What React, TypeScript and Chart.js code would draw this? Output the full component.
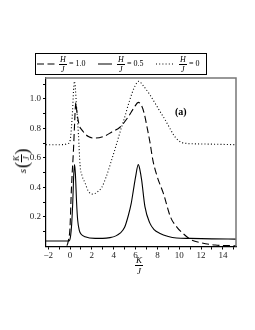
import React, { useEffect, useRef } from "react";
import { Chart, registerables } from "chart.js";

Chart.register(...registerables);

// H/J = 1.0 (dashed)
const xH10 = [-2.2, -0.5, -0.3, -0.15, 0, 0.1, 0.2, 0.3, 0.4, 0.47, 0.53, 0.6, 0.71, 0.85, 1.08, 1.68, 2.3, 3.2, 3.8, 4.6, 5.3, 5.9, 6.25, 6.55, 6.8, 7.05, 7.3, 7.6, 8.0, 8.55, 9.2, 9.8, 10.4, 11.1, 12.0, 13.3, 15.2];
const yH10 = [0.0, 0.0, 0.005, 0.04, 0.13, 0.34, 0.5, 0.63, 0.8, 0.92, 0.975, 0.93, 0.87, 0.82, 0.79, 0.745, 0.735, 0.75, 0.775, 0.81, 0.875, 0.945, 0.977, 0.955, 0.9, 0.81, 0.715, 0.58, 0.47, 0.36, 0.2, 0.13, 0.085, 0.045, 0.025, 0.01, 0.005];

// H/J = 0.5 (solid)
const xH05 = [-2.2, -0.1, 0.05, 0.15, 0.25, 0.35, 0.42, 0.5, 0.6, 0.7, 0.85, 1.0, 1.38, 2.3, 3.0, 3.66, 4.2, 4.58, 5.0, 5.34, 5.6, 5.8, 6.0, 6.25, 6.4, 6.56, 6.86, 7.3, 7.7, 8.2, 9.0, 9.75, 11.0, 13.0, 15.2];
const yH05 = [0.037, 0.037, 0.07, 0.15, 0.3, 0.5, 0.555, 0.48, 0.3, 0.18, 0.11, 0.085, 0.066, 0.055, 0.055, 0.06, 0.072, 0.09, 0.13, 0.21, 0.29, 0.38, 0.47, 0.555, 0.52, 0.45, 0.27, 0.16, 0.115, 0.09, 0.068, 0.058, 0.055, 0.052, 0.05];

// H/J = 0 (dotted)
const xH00 = [-2.2, -1.0, -0.1, 0.05, 0.2, 0.4, 0.6, 0.77, 0.92, 1.1, 1.38, 1.68, 2.1, 2.5, 2.9, 3.3, 3.7, 4.2, 4.6, 4.9, 5.5, 5.9, 6.3, 6.7, 7.3, 7.8, 8.2, 8.7, 9.15, 9.5, 9.9, 10.5, 12.0, 15.2];
const yH00 = [0.69, 0.69, 0.7, 0.74, 0.88, 1.12, 0.95, 0.76, 0.55, 0.48, 0.43, 0.375, 0.355, 0.37, 0.4, 0.47, 0.56, 0.68, 0.78, 0.85, 1.0, 1.08, 1.12, 1.09, 1.03, 0.97, 0.92, 0.86, 0.8, 0.755, 0.72, 0.70, 0.695, 0.69];

const xTicks = [-2, -1, 0, 1, 2, 3, 4, 5, 6, 7, 8, 9, 10, 11, 12, 13, 14, 15];
const xLabels = ["−2", "", "0", "", "2", "", "4", "", "6", "", "8", "", "10", "", "12", "", "14", ""];
const yTicks = [0.1, 0.2, 0.3, 0.4, 0.5, 0.6, 0.7, 0.8, 0.9, 1.0, 1.1];
const yLabels = ["", "0.2", "", "0.4", "", "0.6", "", "0.8", "", "1.0", ""];

const SERIF = "'Liberation Serif', 'DejaVu Serif', serif";

const pts = (xs: number[], ys: number[]) => xs.map((x, i) => ({ x, y: ys[i] }));

const Frac = ({ n, d, size = 8 }: { n: string; d: string; size?: number }) => (
  <span style={{ display: "inline-block", textAlign: "center", verticalAlign: "middle", fontStyle: "italic", fontSize: size, lineHeight: `${size}px` }}>
    <span style={{ display: "block", padding: "0 1px" }}>{n}</span>
    <span style={{ display: "block", borderTop: "1px solid #000", paddingTop: 1 }}>{d}</span>
  </span>
);

const framePlugin = {
  id: "frame",
  afterDraw(chart: any) {
    const { ctx, chartArea } = chart;
    ctx.save();
    ctx.strokeStyle = "#777";
    ctx.lineWidth = 1.5;
    ctx.beginPath();
    ctx.moveTo(chartArea.left - 1, chartArea.top);
    ctx.lineTo(chartArea.right, chartArea.top);
    ctx.lineTo(chartArea.right, chartArea.bottom);
    ctx.stroke();
    ctx.restore();
  },
};

export default function App() {
  const ref = useRef<HTMLCanvasElement>(null);
  useEffect(() => {
    if (!ref.current) return;
    const common = { pointRadius: 0, borderColor: "#000", borderWidth: 1.1, showLine: true, cubicInterpolationMode: "monotone" as const, fill: false };
    const chart = new Chart(ref.current, {
      type: "scatter",
      data: {
        datasets: [
          { ...common, label: "H/J = 1.0", data: pts(xH10, yH10), borderDash: [7, 3.5] },
          { ...common, label: "H/J = 0.5", data: pts(xH05, yH05) },
          { ...common, label: "H/J = 0", data: pts(xH00, yH00), borderDash: [1, 2.2] },
        ],
      },
      options: {
        responsive: false,
        animation: false,
        layout: { padding: { left: 0, top: 78, right: 19, bottom: 63.5 } },
        plugins: { legend: { display: false }, tooltip: { enabled: false } },
        scales: {
          x: {
            type: "linear",
            min: -2.2,
            max: 15.2,
            afterBuildTicks: (s: any) => { s.ticks = xTicks.map((v) => ({ value: v })); },
            afterFit: (s: any) => { s.height = 20; },
            ticks: {
              autoSkip: false,
              maxRotation: 0,
              padding: 1,
              color: "#222",
              font: { family: SERIF, size: 9 },
              callback: (_v: any, i: number) => xLabels[i],
            },
            grid: { drawOnChartArea: false, drawTicks: true, tickLength: 3, color: "#000" },
            border: { color: "#000", width: 1.2 },
          },
          y: {
            type: "linear",
            min: 0,
            max: 1.142,
            afterBuildTicks: (s: any) => { s.ticks = yTicks.map((v) => ({ value: v })); },
            afterFit: (s: any) => { s.width = 46; },
            ticks: {
              autoSkip: false,
              padding: 2,
              color: "#222",
              font: { family: SERIF, size: 9 },
              callback: (_v: any, i: number) => yLabels[i],
            },
            grid: { drawOnChartArea: false, drawTicks: true, tickLength: 3, color: "#000" },
            border: { color: "#000", width: 1.2 },
          },
        },
      },
      plugins: [framePlugin],
    });
    return () => chart.destroy();
  }, []);

  const abs = (l: number, t: number): React.CSSProperties => ({ position: "absolute", left: l, top: t });

  return (
    <div style={{ position: "fixed", left: 0, top: 0, width: 255, height: 330, background: "#fff", fontFamily: SERIF, color: "#000" }}>
      <canvas ref={ref} width={255} height={330} style={{ position: "absolute", left: 0, top: 0, width: 255, height: 330 }} />
      {/* legend */}
      <div style={{ position: "absolute", left: 35, top: 53, width: 170, height: 20, border: "1.2px solid #000" }} />
      <svg width={255} height={80} style={{ position: "absolute", left: 0, top: 0 }}>
        <line x1={37} y1={64} x2={55} y2={64} stroke="#000" strokeWidth={1} strokeDasharray="7 3.5" />
        <line x1={98} y1={64} x2={112} y2={64} stroke="#000" strokeWidth={1} />
        <line x1={156} y1={64} x2={173} y2={64} stroke="#000" strokeWidth={1} strokeDasharray="1 2.2" />
      </svg>
      <div style={{ ...abs(59, 55) }}><Frac n="H" d="J" /></div>
      <div style={{ ...abs(69, 59), fontSize: 8, lineHeight: "9px" }}>= 1.0</div>
      <div style={{ ...abs(117, 55) }}><Frac n="H" d="J" /></div>
      <div style={{ ...abs(127, 59), fontSize: 8, lineHeight: "9px" }}>= 0.5</div>
      <div style={{ ...abs(179, 55) }}><Frac n="H" d="J" /></div>
      <div style={{ ...abs(189, 59), fontSize: 8, lineHeight: "9px" }}>= 0</div>
      {/* (a) */}
      <div style={{ ...abs(175, 106), fontSize: 10, lineHeight: "11px", fontWeight: "bold" }}>(a)</div>
      {/* x title */}
      <div style={{ ...abs(135, 256) }}><Frac n="K" d="J" size={9} /></div>
      {/* y title */}
      <div style={{ position: "absolute", left: 22, top: 161, transform: "translate(-50%, -50%) rotate(-90deg)", display: "flex", alignItems: "center", whiteSpace: "nowrap" }}>
        <span style={{ fontStyle: "italic", fontSize: 11, marginRight: 1 }}>s</span>
        <span style={{ fontSize: 18, lineHeight: "18px" }}>(</span>
        <Frac n="K" d="J" size={8} />
        <span style={{ fontSize: 18, lineHeight: "18px" }}>)</span>
      </div>
    </div>
  );
}
